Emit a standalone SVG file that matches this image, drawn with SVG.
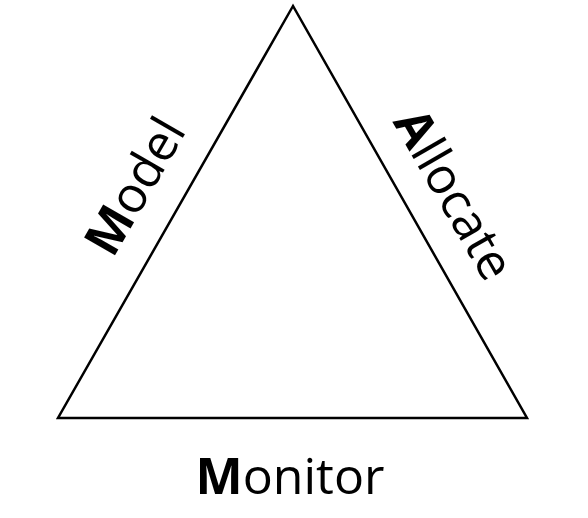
<svg xmlns="http://www.w3.org/2000/svg" width="588" height="518" viewBox="0 0 588 518">
<style>
.lbl{font-family:"Open Sans","DejaVu Sans",sans-serif;font-size:50px;fill:#000;text-anchor:middle}
.b{font-weight:bold}
</style>
<rect width="588" height="518" fill="#fff"/>
<g id="connectors">
<polygon id="triangle" points="293,6 58,418 527,418" fill="none" stroke="#000" stroke-width="2.5" stroke-linejoin="miter"/>
</g>
<g id="model">
<text class="lbl" transform="translate(150,195) rotate(-60)"><tspan class="b">M</tspan>odel</text>
</g>
<g id="allocate">
<text class="lbl" transform="translate(439,203) rotate(60)"><tspan class="b">A</tspan>llocate</text>
</g>
<g id="monitor">
<text class="lbl" x="290" y="494"><tspan class="b">M</tspan>onitor</text>
</g>
</svg>
